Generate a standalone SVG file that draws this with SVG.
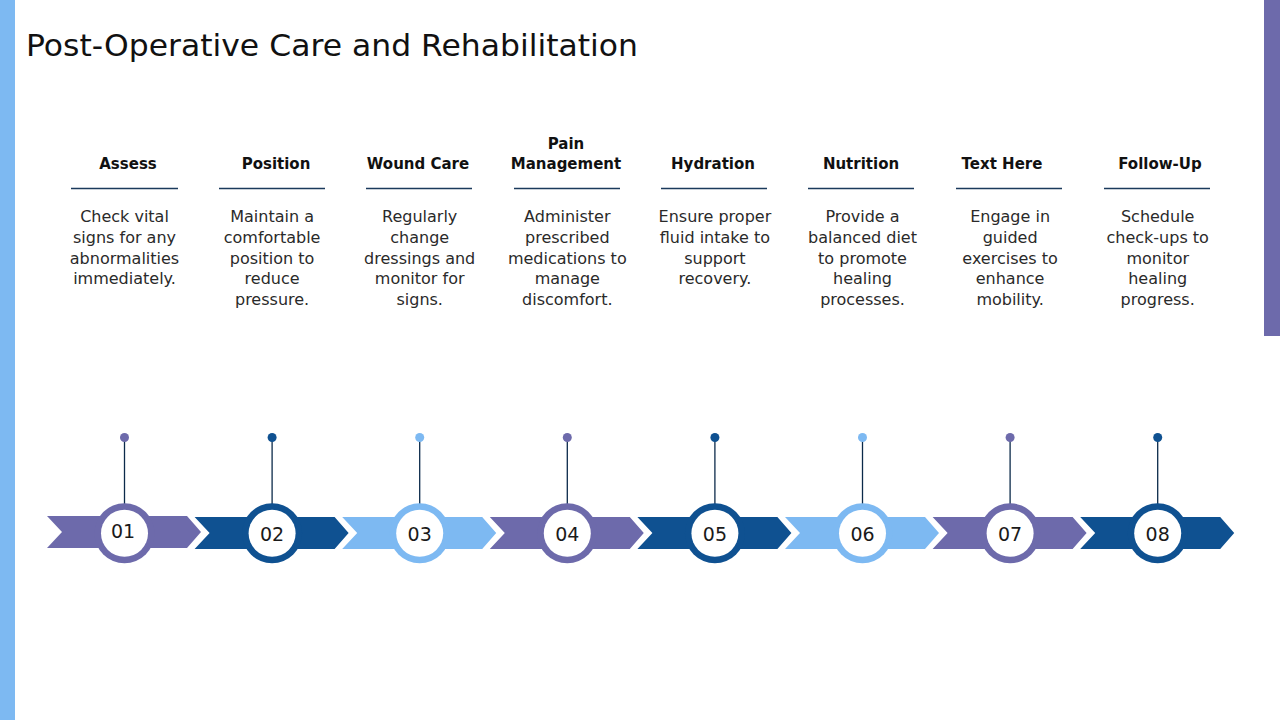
<svg xmlns="http://www.w3.org/2000/svg" width="1280" height="720" viewBox="0 0 1280 720">
<style>
.title{font-family:"DejaVu Sans","Liberation Sans",sans-serif;font-size:31px;fill:#111}
.hd{font-family:"DejaVu Sans","Liberation Sans",sans-serif;font-size:15px;font-weight:bold;fill:#111;text-anchor:middle}
.ds{font-family:"DejaVu Sans","Liberation Sans",sans-serif;font-size:16px;fill:#2a2a2a;text-anchor:middle}
.num{font-family:"DejaVu Sans","Liberation Sans",sans-serif;font-size:19px;fill:#1a1a1a;text-anchor:middle}
.ul{stroke:#1B3A5C;stroke-width:1.3}
.pin{stroke:#0B2A4A;stroke-width:1.3}
.c1{fill:#6D6AAB}.c2{fill:#0F5191}.c3{fill:#7DB9F2}
.w{fill:#fff}
</style>
<defs>
<polygon id="chev" points="0,0 140,0 154,16 140,32 0,32 15,16"/>
</defs>
<rect x="0" y="0" width="1280" height="720" fill="#fff"/>
<rect x="0" y="0" width="15" height="720" class="c3"/>
<rect x="1264" y="0" width="16" height="336" class="c1"/>
<text class="title" x="26" y="56" textLength="612" lengthAdjust="spacingAndGlyphs">Post-Operative Care and Rehabilitation</text>

<g id="connectors">
<line class="pin" x1="124.5" y1="440" x2="124.5" y2="504"/>
<line class="pin" x1="272.1" y1="440" x2="272.1" y2="504"/>
<line class="pin" x1="419.7" y1="440" x2="419.7" y2="504"/>
<line class="pin" x1="567.3" y1="440" x2="567.3" y2="504"/>
<line class="pin" x1="714.9" y1="440" x2="714.9" y2="504"/>
<line class="pin" x1="862.5" y1="440" x2="862.5" y2="504"/>
<line class="pin" x1="1010.1" y1="440" x2="1010.1" y2="504"/>
<line class="pin" x1="1157.7" y1="440" x2="1157.7" y2="504"/>
</g>

<g id="step1">
<text class="hd" x="128" y="169">Assess</text>
<line class="ul" x1="71" y1="188.5" x2="178" y2="188.5"/>
<text class="ds" x="124.5" y="222"><tspan x="124.5">Check vital</tspan><tspan x="124.5" dy="20.75">signs for any</tspan><tspan x="124.5" dy="20.75">abnormalities</tspan><tspan x="124.5" dy="20.75">immediately.</tspan></text>
<circle class="c1" cx="124.5" cy="437.5" r="4.5"/>
<use href="#chev" x="47" y="516" class="c1"/>
<circle class="c1" cx="124.5" cy="533.3" r="30"/>
<circle class="w" cx="124.5" cy="533.3" r="23.5"/>
<text class="num" x="123" y="537.5">01</text>
</g>

<g id="step2">
<text class="hd" x="276" y="169">Position</text>
<line class="ul" x1="219" y1="188.5" x2="325" y2="188.5"/>
<text class="ds" x="272.1" y="222"><tspan x="272.1">Maintain a</tspan><tspan x="272.1" dy="20.75">comfortable</tspan><tspan x="272.1" dy="20.75">position to</tspan><tspan x="272.1" dy="20.75">reduce</tspan><tspan x="272.1" dy="20.75">pressure.</tspan></text>
<circle class="c2" cx="272.1" cy="437.5" r="4.5"/>
<use href="#chev" x="194.6" y="517" class="c2"/>
<circle class="c2" cx="272.1" cy="533.3" r="30"/>
<circle class="w" cx="272.1" cy="533.3" r="23.5"/>
<text class="num" x="272.1" y="540.5">02</text>
</g>

<g id="step3">
<text class="hd" x="418" y="169">Wound Care</text>
<line class="ul" x1="366" y1="188.5" x2="472" y2="188.5"/>
<text class="ds" x="419.7" y="222"><tspan x="419.7">Regularly</tspan><tspan x="419.7" dy="20.75">change</tspan><tspan x="419.7" dy="20.75">dressings and</tspan><tspan x="419.7" dy="20.75">monitor for</tspan><tspan x="419.7" dy="20.75">signs.</tspan></text>
<circle class="c3" cx="419.7" cy="437.5" r="4.5"/>
<use href="#chev" x="342.2" y="517" class="c3"/>
<circle class="c3" cx="419.7" cy="533.3" r="30"/>
<circle class="w" cx="419.7" cy="533.3" r="23.5"/>
<text class="num" x="419.7" y="540.5">03</text>
</g>

<g id="step4">
<text class="hd" x="566" y="149">Pain</text>
<text class="hd" x="566" y="169">Management</text>
<line class="ul" x1="514" y1="188.5" x2="620" y2="188.5"/>
<text class="ds" x="567.3" y="222"><tspan x="567.3">Administer</tspan><tspan x="567.3" dy="20.75">prescribed</tspan><tspan x="567.3" dy="20.75">medications to</tspan><tspan x="567.3" dy="20.75">manage</tspan><tspan x="567.3" dy="20.75">discomfort.</tspan></text>
<circle class="c1" cx="567.3" cy="437.5" r="4.5"/>
<use href="#chev" x="489.8" y="517" class="c1"/>
<circle class="c1" cx="567.3" cy="533.3" r="30"/>
<circle class="w" cx="567.3" cy="533.3" r="23.5"/>
<text class="num" x="567.3" y="540.5">04</text>
</g>

<g id="step5">
<text class="hd" x="713" y="169">Hydration</text>
<line class="ul" x1="661" y1="188.5" x2="767" y2="188.5"/>
<text class="ds" x="714.9" y="222"><tspan x="714.9">Ensure proper</tspan><tspan x="714.9" dy="20.75">fluid intake to</tspan><tspan x="714.9" dy="20.75">support</tspan><tspan x="714.9" dy="20.75">recovery.</tspan></text>
<circle class="c2" cx="714.9" cy="437.5" r="4.5"/>
<use href="#chev" x="637.4" y="517" class="c2"/>
<circle class="c2" cx="714.9" cy="533.3" r="30"/>
<circle class="w" cx="714.9" cy="533.3" r="23.5"/>
<text class="num" x="714.9" y="540.5">05</text>
</g>

<g id="step6">
<text class="hd" x="861" y="169">Nutrition</text>
<line class="ul" x1="808" y1="188.5" x2="914" y2="188.5"/>
<text class="ds" x="862.5" y="222"><tspan x="862.5">Provide a</tspan><tspan x="862.5" dy="20.75">balanced diet</tspan><tspan x="862.5" dy="20.75">to promote</tspan><tspan x="862.5" dy="20.75">healing</tspan><tspan x="862.5" dy="20.75">processes.</tspan></text>
<circle class="c3" cx="862.5" cy="437.5" r="4.5"/>
<use href="#chev" x="785" y="517" class="c3"/>
<circle class="c3" cx="862.5" cy="533.3" r="30"/>
<circle class="w" cx="862.5" cy="533.3" r="23.5"/>
<text class="num" x="862.5" y="540.5">06</text>
</g>

<g id="step7">
<text class="hd" x="1002" y="169">Text Here</text>
<line class="ul" x1="956" y1="188.5" x2="1062" y2="188.5"/>
<text class="ds" x="1010.1" y="222"><tspan x="1010.1">Engage in</tspan><tspan x="1010.1" dy="20.75">guided</tspan><tspan x="1010.1" dy="20.75">exercises to</tspan><tspan x="1010.1" dy="20.75">enhance</tspan><tspan x="1010.1" dy="20.75">mobility.</tspan></text>
<circle class="c1" cx="1010.1" cy="437.5" r="4.5"/>
<use href="#chev" x="932.6" y="517" class="c1"/>
<circle class="c1" cx="1010.1" cy="533.3" r="30"/>
<circle class="w" cx="1010.1" cy="533.3" r="23.5"/>
<text class="num" x="1010.1" y="540.5">07</text>
</g>

<g id="step8">
<text class="hd" x="1160" y="169">Follow-Up</text>
<line class="ul" x1="1104" y1="188.5" x2="1210" y2="188.5"/>
<text class="ds" x="1157.7" y="222"><tspan x="1157.7">Schedule</tspan><tspan x="1157.7" dy="20.75">check-ups to</tspan><tspan x="1157.7" dy="20.75">monitor</tspan><tspan x="1157.7" dy="20.75">healing</tspan><tspan x="1157.7" dy="20.75">progress.</tspan></text>
<circle class="c2" cx="1157.7" cy="437.5" r="4.5"/>
<use href="#chev" x="1080.2" y="517" class="c2"/>
<circle class="c2" cx="1157.7" cy="533.3" r="30"/>
<circle class="w" cx="1157.7" cy="533.3" r="23.5"/>
<text class="num" x="1157.7" y="540.5">08</text>
</g>
</svg>
